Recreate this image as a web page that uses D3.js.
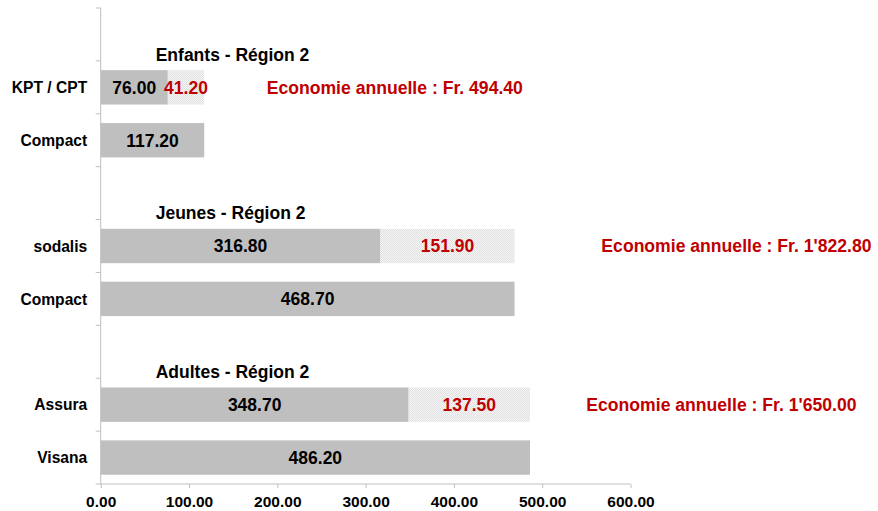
<!DOCTYPE html>
<html>
<head>
<meta charset="utf-8">
<script src="https://cdn.jsdelivr.net/npm/d3@7"></script>
<style>
  html, body { margin: 0; padding: 0; background: #ffffff; }
  svg { display: block; font-family: "Liberation Sans", Arial, sans-serif; font-weight: bold; }
</style>
</head>
<body>
<svg id="chart" width="878" height="511"></svg>
<script>
// ---- data ----
const groupTitles = ["Enfants - Région 2", "Jeunes - Région 2", "Adultes - Région 2"];
const rowLabels   = ["KPT / CPT", "Compact", "sodalis", "Compact", "Assura", "Visana"];
const rowGroup    = [0, 0, 1, 1, 2, 2];
const baseValues  = [76.00, 117.20, 316.80, 468.70, 348.70, 486.20];
const savingValues = [41.20, 0, 151.90, 0, 137.50, 0];
const savingsText = ["Economie annuelle : Fr. 494.40", "Economie annuelle : Fr. 1'822.80", "Economie annuelle : Fr. 1'650.00"];
const savingsTextAt = [188, 567, 550];   // value (x units) where the annual-savings note starts
const xTicks = [0, 100, 200, 300, 400, 500, 600];

// ---- layout ----
const svg = d3.select("#chart");
const RED = "#c00000", GRAY = "#bfbfbf", AXIS = "#bfbfbf";

// band keys: header row per group followed by its rows
const keys = [];
groupTitles.forEach((g, gi) => {
  keys.push("h" + gi);
  rowLabels.forEach((r, ri) => { if (rowGroup[ri] === gi) keys.push("r" + ri); });
});

const x = d3.scaleLinear().domain([0, 600]).range([100.7, 630.5]);
const y = d3.scaleBand().domain(keys).range([8, 484]).paddingInner(0.35).paddingOuter(0.175);
const step = y.step();
const slotStart = k => y(k) - step * 0.175;

// pattern for savings segment
const defs = svg.append("defs");
const pat = defs.append("pattern").attr("id", "dots").attr("patternUnits", "userSpaceOnUse")
  .attr("width", 2).attr("height", 2);
pat.append("rect").attr("width", 2).attr("height", 2).attr("fill", "#f6f6f6");
pat.append("rect").attr("width", 1).attr("height", 1).attr("fill", "#e0e0e0");
pat.append("rect").attr("x", 1).attr("y", 1).attr("width", 1).attr("height", 1).attr("fill", "#e0e0e0");

// ---- axes ----
svg.append("line").attr("x1", x(0)).attr("x2", x(0)).attr("y1", y.range()[0]).attr("y2", y.range()[1])
  .attr("stroke", AXIS).attr("stroke-width", 1);
const boundaries = keys.map(k => slotStart(k)).concat([y.range()[1]]);
svg.selectAll(".ltick").data(boundaries).join("line")
  .attr("x1", x(0) - 5).attr("x2", x(0))
  .attr("y1", d => d).attr("y2", d => d)
  .attr("stroke", AXIS);

const xAxis = svg.append("g").attr("transform", `translate(0,${y.range()[1]})`)
  .call(d3.axisBottom(x).tickValues(xTicks).tickFormat(d3.format(".2f")).tickSize(4).tickPadding(8));
xAxis.select(".domain").attr("stroke", AXIS).attr("d", `M${x(0)},0H${x(600)}`);
xAxis.selectAll(".tick line").attr("stroke", AXIS);
xAxis.selectAll(".tick text").attr("fill", "#000").attr("font-size", "15.5px")
  .attr("font-family", "'Liberation Sans', Arial, sans-serif").attr("font-weight", "bold");

// ---- bars ----
const rows = rowLabels.map((r, i) => ({ key: "r" + i, label: r, base: baseValues[i], save: savingValues[i] }));

svg.selectAll(".base").data(rows).join("rect")
  .attr("x", x(0)).attr("y", d => y(d.key))
  .attr("width", d => x(d.base) - x(0)).attr("height", y.bandwidth())
  .attr("fill", GRAY);

svg.selectAll(".save").data(rows.filter(d => d.save > 0)).join("rect")
  .attr("x", d => x(d.base)).attr("y", d => y(d.key))
  .attr("width", d => x(d.base + d.save) - x(d.base)).attr("height", y.bandwidth())
  .attr("fill", "url(#dots)");

svg.selectAll(".vlab").data(rows).join("text")
  .attr("x", d => (x(0) + x(d.base)) / 2).attr("y", d => y(d.key) + y.bandwidth() / 2)
  .attr("dy", "0.36em").attr("text-anchor", "middle")
  .attr("font-size", "17.5px").attr("fill", "#000")
  .text(d => d3.format(".2f")(d.base));

svg.selectAll(".slab").data(rows.filter(d => d.save > 0)).join("text")
  .attr("x", d => (x(d.base) + x(d.base + d.save)) / 2).attr("y", d => y(d.key) + y.bandwidth() / 2)
  .attr("dy", "0.36em").attr("text-anchor", "middle")
  .attr("font-size", "17.5px").attr("fill", RED)
  .text(d => d3.format(".2f")(d.save));

svg.selectAll(".clab").data(rows).join("text")
  .attr("x", x(0) - 13.5).attr("y", d => y(d.key) + y.bandwidth() / 2)
  .attr("dy", "0.36em").attr("text-anchor", "end")
  .attr("font-size", "15.6px").attr("fill", "#000")
  .text(d => d.label);

svg.selectAll(".gtitle").data(groupTitles).join("text")
  .attr("x", x(0) + 55).attr("y", (d, i) => slotStart("h" + i) + step - 6.5)
  .attr("dy", "0.36em").attr("font-size", "17.5px").attr("fill", "#000")
  .text(d => d);

svg.selectAll(".note").data(savingsText).join("text")
  .attr("x", (d, i) => x(savingsTextAt[i]))
  .attr("y", (d, i) => {
    const ri = rowGroup.indexOf(i);
    return y("r" + ri) + y.bandwidth() / 2;
  })
  .attr("dy", "0.36em").attr("font-size", "17.6px").attr("fill", RED)
  .text(d => d);
</script>
</body>
</html>
